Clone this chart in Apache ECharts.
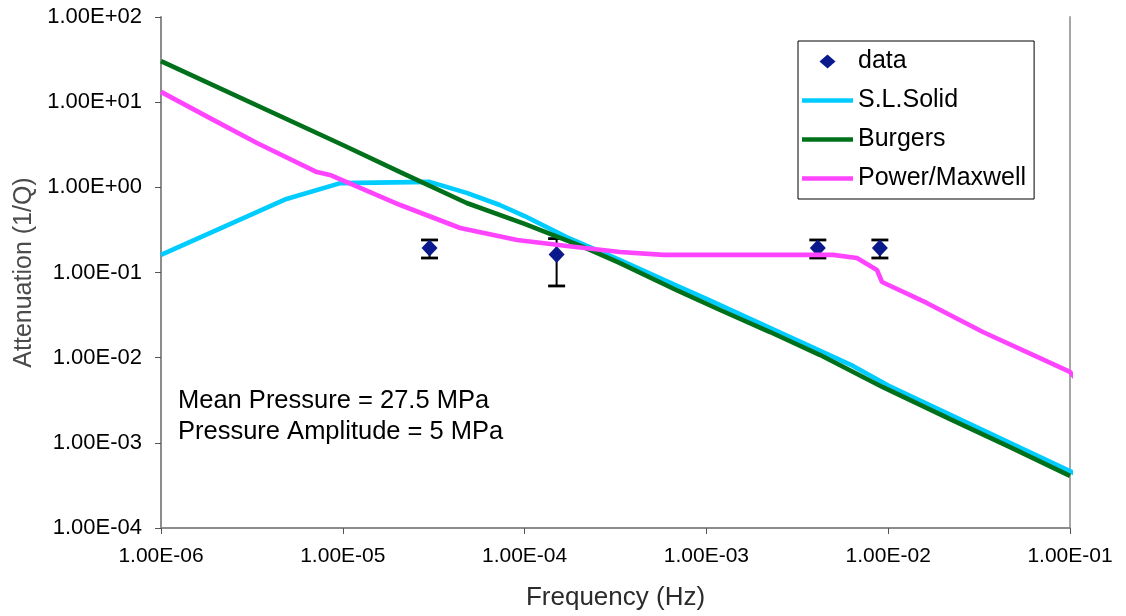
<!DOCTYPE html>
<html>
<head>
<meta charset="utf-8">
<title>Attenuation vs Frequency</title>
<script src="https://cdn.jsdelivr.net/npm/echarts@6/dist/echarts.min.js"></script>
<style>
  html, body { margin: 0; padding: 0; background: #ffffff; }
  #chart { width: 1126px; height: 616px; }
</style>
</head>
<body>
<div id="chart"></div>
<script>
// Tick labels for the two logarithmic axes
const xTickLabels = ['1.00E-06', '1.00E-05', '1.00E-04', '1.00E-03', '1.00E-02', '1.00E-01'];
const yTickLabels = ['1.00E-04', '1.00E-03', '1.00E-02', '1.00E-01', '1.00E+00', '1.00E+01', '1.00E+02'];

// Measured attenuation with error range
const dataFreq    = [3.0e-5, 1.5e-4, 4.1e-3, 9.0e-3];
const dataAtten   = [0.194, 0.163, 0.194, 0.194];
const dataErrLow  = [0.148, 0.0695, 0.148, 0.148];
const dataErrHigh = [0.241, 0.25, 0.241, 0.241];

// Standard linear solid model
const slFreq  = [1e-6, 4.9e-6, 9.7e-6, 3.0e-5, 4.8e-5, 7.3e-5, 1.0e-4, 1.7e-4, 3.35e-4, 6.9e-4, 1.0e-3, 6.4e-3, 1.0e-2, 0.108];
const slAtten = [0.161, 0.73, 1.12, 1.16, 0.86, 0.62, 0.46, 0.26, 0.14, 0.0695, 0.0489, 0.0080, 0.0047, 4.3e-4];

// Burgers model
const bgFreq  = [1e-6, 1e-5, 2.07e-5, 4.8e-5, 1.0e-4, 2.1e-4, 3.35e-4, 7.0e-4, 1.19e-3, 2.24e-3, 4.2e-3, 9.35e-3, 0.0219, 0.0468, 0.1];
const bgAtten = [30.4, 3.14, 1.51, 0.655, 0.372, 0.2, 0.129, 0.0607, 0.0363, 0.020, 0.0108, 0.0045, 0.0019, 8.9e-4, 4.1e-4];

// Power-law / Maxwell model
const pmFreq  = [1e-6, 1.86e-6, 3.37e-6, 7.2e-6, 8.5e-6, 2.07e-5, 4.42e-5, 9.1e-5, 1.71e-4, 3.35e-4, 5.8e-4, 4.97e-3, 6.73e-3, 8.67e-3, 9.25e-3, 0.0163, 0.0332, 0.0625, 0.1, 0.109];
const pmAtten = [13.2, 6.5, 3.32, 1.51, 1.40, 0.62, 0.333, 0.241, 0.205, 0.174, 0.161, 0.161, 0.148, 0.107, 0.0773, 0.0439, 0.020, 0.0108, 0.0068, 0.00547];

const zip = (xs, ys) => xs.map((x, i) => [x, ys[i]]);
const FONT = '"Liberation Sans", Arial, sans-serif';

// Legend glyphs sized to a 51 x 14 box: a diamond, and a thick bar for the curves
const ICON_DIAMOND = 'path://M0,7L0,7M51,7L51,7M25.5,0L33.5,7L25.5,14L17.5,7Z';
const ICON_BAR = 'path://M0,0L0,0M51,14L51,14M0,4.7L51,4.7L51,9.3L0,9.3Z';

const chart = echarts.init(document.getElementById('chart'), null, { renderer: 'canvas' });

const axisGray = '#8c8c8c';

const option = {
  animation: false,
  backgroundColor: '#ffffff',
  textStyle: { fontFamily: FONT },
  grid: { left: 161, right: 56, top: 17, bottom: 88, containLabel: false },
  legend: {
    orient: 'vertical',
    left: 798,
    top: 41,
    padding: [8, 8, 8, 4],
    itemWidth: 51,
    itemHeight: 14,
    itemGap: 14,
    borderColor: '#000000',
    borderWidth: 1,
    backgroundColor: '#ffffff',
    selectedMode: false,
    textStyle: { fontFamily: FONT, fontSize: 25, color: '#000000', lineHeight: 24 },
    data: [
      { name: 'data', icon: ICON_DIAMOND },
      { name: 'S.L.Solid', icon: ICON_BAR },
      { name: 'Burgers', icon: ICON_BAR },
      { name: 'Power/Maxwell', icon: ICON_BAR }
    ]
  },
  xAxis: {
    type: 'log',
    logBase: 10,
    min: 1e-6,
    max: 0.1,
    name: 'Frequency (Hz)',
    nameLocation: 'middle',
    nameGap: 57,
    nameTextStyle: { fontFamily: FONT, fontSize: 26, color: '#2b2b2b' },
    axisLine: { show: true, onZero: false, lineStyle: { color: axisGray, width: 2 } },
    axisTick: { show: true, inside: false, length: 6, lineStyle: { color: '#555555', width: 1 } },
    minorTick: { show: false },
    splitLine: { show: false },
    axisLabel: {
      fontFamily: FONT, fontSize: 21, color: '#000000', margin: 18,
      formatter: (v) => xTickLabels[Math.round(Math.log10(v)) + 6] || ''
    }
  },
  yAxis: [{
    type: 'log',
    logBase: 10,
    min: 1e-4,
    max: 100,
    name: 'Attenuation (1/Q)',
    nameLocation: 'middle',
    nameGap: 122,
    nameTextStyle: { fontFamily: FONT, fontSize: 25, color: '#4a4a4a' },
    axisLine: { show: true, onZero: false, lineStyle: { color: axisGray, width: 2 } },
    axisTick: { show: true, inside: false, length: 6, lineStyle: { color: '#555555', width: 1 } },
    splitLine: { show: false },
    axisLabel: {
      fontFamily: FONT, fontSize: 22, color: '#000000', margin: 19,
      formatter: (v) => yTickLabels[Math.round(Math.log10(v)) + 4] || ''
    }
  }, {
    // right edge of the plot frame
    type: 'value',
    position: 'right',
    min: 0,
    max: 1,
    axisLine: { show: true, lineStyle: { color: '#a6a6a6', width: 2 } },
    axisTick: { show: false },
    axisLabel: { show: false },
    splitLine: { show: false }
  }],
  graphic: [{
    type: 'text',
    left: 178,
    top: 385,
    silent: true,
    style: {
      text: 'Mean Pressure = 27.5 MPa\nPressure Amplitude = 5 MPa',
      font: '25.5px ' + FONT,
      lineHeight: 31,
      fill: '#000000'
    }
  }],
  series: [
    {
      name: 'error',
      type: 'custom',
      z: 2,
      silent: true,
      data: dataFreq.map((f, i) => [f, dataAtten[i], dataErrLow[i], dataErrHigh[i]]),
      encode: { x: 0, y: [2, 3] },
      renderItem: (params, api) => {
        const x = api.value(0);
        const lo = api.coord([x, api.value(2)]);
        const hi = api.coord([x, api.value(3)]);
        const half = 8.5;
        const stem = { stroke: '#000000', lineWidth: 2 };
        const cap = { stroke: '#000000', lineWidth: 2.8 };
        return {
          type: 'group',
          children: [
            { type: 'line', shape: { x1: lo[0], y1: lo[1], x2: hi[0], y2: hi[1] }, style: stem },
            { type: 'line', shape: { x1: lo[0] - half, y1: lo[1], x2: lo[0] + half, y2: lo[1] }, style: cap },
            { type: 'line', shape: { x1: hi[0] - half, y1: hi[1], x2: hi[0] + half, y2: hi[1] }, style: cap }
          ]
        };
      }
    },
    {
      name: 'data',
      type: 'scatter',
      z: 3,
      symbol: 'diamond',
      symbolSize: [16, 17],
      itemStyle: { color: '#0a1a8c', opacity: 1 },
      emphasis: { disabled: true },
      data: zip(dataFreq, dataAtten)
    },
    {
      name: 'S.L.Solid',
      type: 'line',
      z: 4,
      symbol: 'none',
      clip: false,
      lineStyle: { color: '#00ccff', width: 4.6 },
      itemStyle: { color: '#00ccff' },
      emphasis: { disabled: true },
      data: zip(slFreq, slAtten)
    },
    {
      name: 'Burgers',
      type: 'line',
      z: 5,
      symbol: 'none',
      clip: false,
      lineStyle: { color: '#00701a', width: 4.6 },
      itemStyle: { color: '#00701a' },
      emphasis: { disabled: true },
      data: zip(bgFreq, bgAtten)
    },
    {
      name: 'Power/Maxwell',
      type: 'line',
      z: 6,
      symbol: 'none',
      clip: false,
      lineStyle: { color: '#ff44ff', width: 4.6 },
      itemStyle: { color: '#ff44ff' },
      emphasis: { disabled: true },
      data: zip(pmFreq, pmAtten)
    }
  ]
};

chart.setOption(option);
</script>
</body>
</html>
